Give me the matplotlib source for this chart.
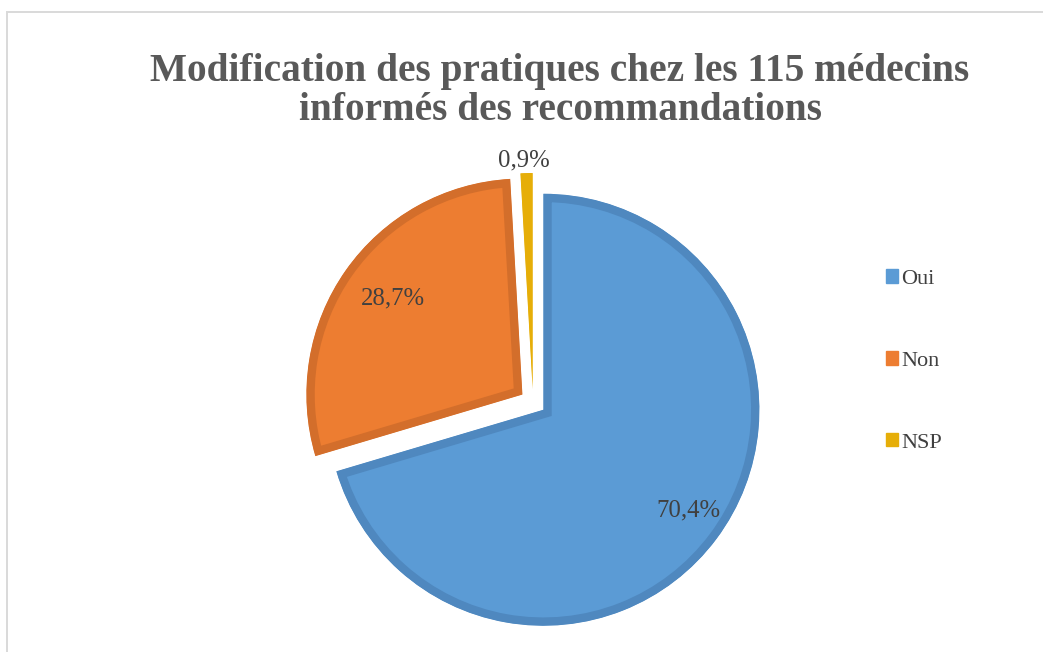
import numpy as np
import matplotlib.pyplot as plt
from matplotlib.patches import Rectangle, Patch

# --- Data ---
labels = ["Oui", "Non", "NSP"]
values = [70.4, 28.7, 0.9]
pct_text = ["70,4%", "28,7%", "0,9%"]
fill_colors = ["#5B9BD5", "#ED7D31", "#E6AE08"]
edge_colors = ["#4F88BF", "#D36E2B", "#E6AE08"]
title = "Modification des pratiques chez les 115 médecins\ninformés des recommandations"

plt.rcParams['font.family'] = ['Liberation Serif', 'DejaVu Serif']

W, H = 1043, 652
fig = plt.figure(figsize=(W / 100, H / 100), dpi=100)

# chart frame (runs off the right and bottom edges)
fig.patches.append(Rectangle((7 / W, -0.1), 1.2, 1 - 12 / H + 0.1, transform=fig.transFigure,
                             fill=False, edgecolor="#D9D9D9", linewidth=1.4))

# axes placed so the pie centre sits near (533, 402) px, 216 px radius
scale = 216
lim = 1.25
side = 2 * lim * scale
cx, cy = 533, H - 402
ax = fig.add_axes([(cx - side / 2) / W, (cy - side / 2) / H, side / W, side / H])
ax.set_xlim(-lim, lim)
ax.set_ylim(-lim, lim)
ax.set_aspect('equal')
ax.axis('off')

wedges, _ = ax.pie(values, colors=fill_colors, startangle=90, counterclock=False,
                   explode=[0.06, 0.06, 0.06], radius=1.0)

# darker inner rim: thick edge clipped to the wedge itself
for w, ec in zip(wedges, edge_colors):
    w.set_edgecolor(ec)
    w.set_linewidth(12)
    w.set_clip_path(w)
    w.set_clip_on(True)

# percentage labels
label_pos = [(0.72, -0.50), (-0.65, 0.48), (-0.04, 1.12)]
for (x, y), t in zip(label_pos, pct_text):
    ax.text(x, y, t, ha='center', va='center', fontsize=17.8, color="#404040")

fig.text(0.537, 0.860, title, ha='center', va='center', fontsize=28.3,
         fontweight='bold', color="#595959", linespacing=1.08)

handles = [Patch(facecolor=c, edgecolor=c) for c in fill_colors]
fig.legend(handles, labels, loc='center left', bbox_to_anchor=(866 / W, 1 - 361 / H),
           frameon=False, fontsize=16, handlelength=0.55, handleheight=0.55,
           handletextpad=0.15, labelspacing=2.8, labelcolor="#404040")

fig.savefig("out.png", dpi=100)
